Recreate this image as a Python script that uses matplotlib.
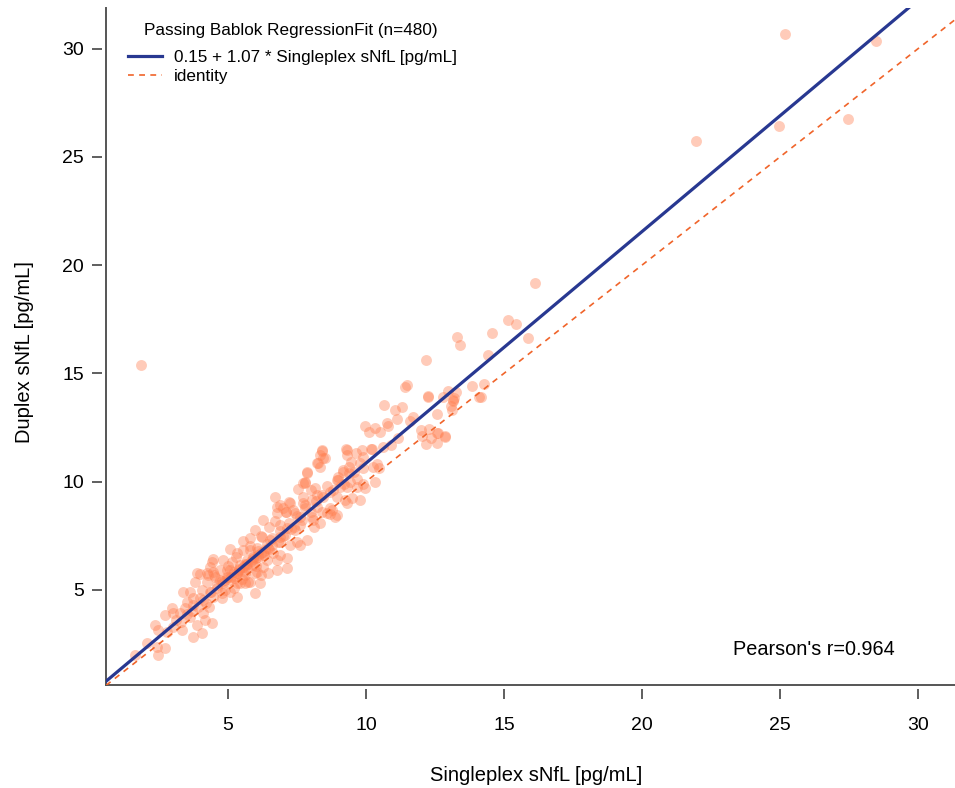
import matplotlib
matplotlib.use("Agg")
import matplotlib.pyplot as plt
import numpy as np

plt.rcParams["font.family"] = ["Liberation Sans", "DejaVu Sans"]

POINT = "#FF7F50"
FIT = "#283891"
IDENT = "#F0642A"
AXIS = "#555555"

# readings (Singleplex, Duplex), pg/mL
single = [
    25.19, 28.47, 21.97, 24.95, 27.45, 16.11, 15.16, 15.43, 15.87, 14.57,
    14.42, 14.28, 14.17, 1.85,
    13.28, 13.42, 12.19, 11.49, 11.40, 13.83, 12.23, 12.98, 13.25, 13.18,
    12.80, 13.15, 13.09, 13.13, 14.09, 10.64, 11.32, 11.04, 11.12, 12.58,
    11.69, 11.59, 10.77, 10.81, 9.96, 10.33, 10.11, 10.51, 11.98, 12.27,
    12.02, 12.37, 12.62, 12.87, 12.17, 12.58, 9.28, 10.23, 10.61, 11.16,
    13.16, 12.86, 12.56, 12.26,
    8.41, 8.33, 8.51, 8.21, 8.33, 7.86, 9.32, 9.62, 9.86, 10.17,
    9.90, 9.46, 9.78, 9.37, 9.18, 9.57, 9.90, 10.27, 10.48, 9.69,
    9.42, 9.32, 9.66, 9.96, 10.33, 8.97, 9.06, 8.70, 8.96, 9.24,
    9.48, 9.78, 7.79, 7.52, 7.99, 8.15, 8.21, 8.45, 8.03, 7.73,
    6.70, 7.22, 7.00, 6.76, 7.37, 7.79, 8.21, 8.70, 8.94, 8.57,
    6.28, 7.61, 8.03, 8.39, 8.45, 8.27, 9.30, 7.85, 7.80, 9.18,
    8.94, 8.88, 8.76, 8.39, 8.09, 8.33,
    7.73, 7.25, 6.88, 6.76, 7.10, 7.43, 7.67, 6.50, 6.88, 7.13,
    7.43, 5.98, 6.22, 5.80, 5.53, 6.52, 6.88, 7.25, 7.61, 7.85,
    5.07, 5.31, 5.55, 5.80, 6.04, 6.28, 6.64, 4.47, 4.83, 5.13,
    5.43, 5.68, 6.10, 6.40, 6.76, 7.13, 5.92, 6.28, 4.35, 4.71,
    5.07, 3.99, 4.29, 4.53, 4.95, 5.31, 5.62, 6.04, 6.46, 6.76,
    7.13, 3.80, 4.23, 4.83, 5.31, 5.80, 6.16,
    4.41, 3.86, 4.23, 4.47, 4.95, 5.31, 5.62, 5.98, 4.71, 5.07,
    5.43, 5.74, 5.98, 3.38, 3.62, 4.05, 4.35, 3.74, 4.11, 4.47,
    4.77, 5.07, 5.31, 3.50, 3.74, 3.44, 2.96, 2.72, 3.02, 3.26,
    3.62, 4.11, 4.41, 4.17, 3.86, 2.36, 2.47, 2.78, 3.02, 4.05,
    3.32, 2.05, 2.42, 2.72, 2.47, 1.63, 3.74,
    5.20, 5.55, 5.85, 6.10, 6.35, 4.90, 5.40, 5.70, 6.00, 6.60,
    4.60, 5.00, 5.25, 5.65, 6.20, 6.90, 7.40, 7.05, 6.45, 5.90,
    3.10, 3.30, 3.50, 3.70, 3.90, 4.00, 4.20, 4.40, 4.60, 4.80,
    4.90, 5.10, 5.20, 5.40, 5.50, 5.60, 5.70, 5.90, 6.00, 6.10,
    6.30, 6.40, 6.50, 6.60, 6.80, 6.90, 7.00, 7.20, 7.30, 7.50,
    7.60, 7.80, 8.00, 8.20, 8.40, 8.60, 8.80, 9.00, 9.20, 9.40,
    4.50, 5.00, 5.30, 5.80, 6.20, 6.70, 7.10, 7.70, 4.30, 4.80,
    5.60, 6.20, 6.90, 7.50, 8.10, 8.70, 9.30, 9.90, 10.40, 10.90,
]
duplex = [
    30.68, 30.35, 25.73, 26.42, 26.77, 19.18, 17.47, 17.28, 16.64, 16.87,
    15.85, 14.51, 13.91, 15.39,
    16.67, 16.30, 15.62, 14.46, 14.37, 14.40, 13.91, 14.20, 14.13, 13.88,
    13.92, 13.70, 13.49, 13.29, 13.89, 13.54, 13.46, 13.31, 12.91, 13.12,
    12.96, 12.81, 12.72, 12.58, 12.57, 12.49, 12.28, 12.28, 12.38, 12.41,
    12.11, 12.03, 12.23, 12.11, 11.72, 11.80, 11.49, 11.52, 11.61, 12.03,
    13.77, 12.08, 12.23, 13.93,
    11.43, 11.23, 11.08, 10.84, 10.69, 10.43, 11.23, 11.31, 11.46, 11.49,
    11.15, 10.92, 10.84, 10.69, 10.46, 10.46, 10.62, 10.69, 10.62, 10.11,
    10.00, 9.77, 9.77, 9.69, 10.00, 10.07, 9.77, 9.54, 9.30, 9.15,
    9.22, 9.15, 10.00, 9.65, 9.61, 9.69, 9.38, 9.30, 9.15, 9.00,
    9.30, 9.07, 8.77, 8.84, 8.69, 8.77, 8.84, 8.77, 8.46, 8.53,
    8.23, 8.38, 8.38, 11.46, 11.08, 10.84, 11.46, 10.38, 9.92, 10.54,
    10.07, 8.38, 8.69, 8.61, 8.23, 8.07,
    9.92, 9.00, 8.92, 8.53, 8.61, 8.53, 8.23, 7.92, 8.00, 7.84,
    7.76, 7.76, 7.45, 7.38, 7.25, 7.30, 7.22, 7.07, 7.07, 7.30,
    6.89, 6.69, 6.84, 6.84, 6.92, 6.76, 6.69, 6.41, 6.38, 6.30,
    6.15, 6.38, 6.53, 6.38, 6.38, 6.46, 6.15, 6.07, 6.07, 5.92,
    5.92, 5.73, 5.68, 5.61, 5.61, 5.76, 5.84, 5.84, 5.76, 5.92,
    5.99, 5.37, 5.37, 5.30, 5.30, 5.37, 5.30,
    6.30, 5.76, 5.76, 5.84, 5.92, 5.76, 5.68, 5.76, 5.45, 5.45,
    5.30, 5.37, 4.83, 4.88, 4.88, 4.99, 4.91, 4.61, 4.53, 4.68,
    4.83, 4.91, 4.68, 4.45, 4.30, 4.14, 4.14, 3.84, 3.91, 3.91,
    3.76, 3.91, 3.45, 3.60, 3.37, 3.37, 3.14, 3.06, 3.29, 2.99,
    3.14, 2.52, 2.37, 2.29, 1.99, 1.99, 2.83,
    5.80, 6.05, 6.35, 6.60, 6.85, 5.45, 5.95, 6.20, 6.45, 7.05,
    5.20, 5.60, 5.55, 6.15, 6.70, 7.45, 7.90, 7.55, 6.95, 6.40,
    3.60, 3.50, 3.90, 4.00, 4.20, 4.60, 4.40, 4.90, 5.10, 5.40,
    5.00, 5.60, 5.10, 5.90, 5.50, 6.20, 6.00, 6.50, 6.10, 6.80,
    6.60, 7.10, 6.90, 7.40, 7.20, 7.70, 7.50, 8.10, 7.80, 8.40,
    8.00, 8.90, 8.60, 9.10, 9.40, 9.80, 9.60, 10.20, 9.90, 10.40,
    5.70, 6.10, 6.50, 7.00, 7.50, 8.20, 8.60, 9.30, 4.20, 4.60,
    5.30, 5.70, 6.60, 7.20, 7.90, 8.50, 9.00, 9.90, 10.80, 11.70,
]

intercept, slope = 0.15, 1.07
pearson_r = 0.964
n_obs = 480

fig = plt.figure(figsize=(9.55, 7.88), dpi=100)
ax = fig.add_axes([106 / 955, 103 / 788, 849 / 955, 677 / 788])

ax.scatter(single, duplex, s=62, color=POINT, alpha=0.4, linewidths=0, zorder=2)

xlim = (0.58, 31.34)
ylim = (0.60, 31.88)
xx = np.array(xlim)
ax.plot(xx, intercept + slope * xx, color=FIT, lw=2.3, zorder=3,
        label=f"{intercept:.2f} + {slope:.2f} * Singleplex sNfL [pg/mL]")
ax.plot(xx, xx, color=IDENT, lw=1.2, dashes=(3.5, 3.2), zorder=3,
        label="identity")
ax.set_xlim(*xlim)
ax.set_ylim(*ylim)

# R-style axes: L frame with detached ticks
for side in ["top", "right"]:
    ax.spines[side].set_visible(False)
for side in ["left", "bottom"]:
    ax.spines[side].set_position(("outward", 3))
    ax.spines[side].set_color("none")
ax.plot([0, 0], [0, 1], transform=ax.transAxes, color=AXIS, lw=1.4, clip_on=False)
ax.plot([0, 1], [0, 0], transform=ax.transAxes, color=AXIS, lw=1.4, clip_on=False)

ax.set_xticks([5, 10, 15, 20, 25, 30])
ax.set_yticks([5, 10, 15, 20, 25, 30])
ax.tick_params(axis="x", direction="out", length=7, width=1.1, color="#333333",
               pad=13, labelsize=14)
ax.tick_params(axis="y", direction="out", length=7, width=1.1, color="#333333",
               pad=6, labelsize=14)

# legend title drawn apart so the gap under it matches the original
fig.text(291 / 955, 1 - 30 / 788, f"Passing Bablok RegressionFit (n={n_obs})",
         fontsize=12.3, ha="center", va="center")
ax.legend(loc="upper left", bbox_to_anchor=(22 / 849, 1 - 42 / 677), frameon=False,
          fontsize=12.3, handlelength=2.0, handletextpad=0.7, labelspacing=0.25,
          borderaxespad=0, borderpad=0)

ax.text(23.3, 2.22, f"Pearson's r={pearson_r}", fontsize=14.3, ha="left", va="center")

fig.text(536 / 955, 7 / 788, "Singleplex sNfL [pg/mL]", fontsize=14.5,
         ha="center", va="baseline")
fig.text(25 / 955, 1 - 352 / 788, "Duplex sNfL [pg/mL]", fontsize=14.5,
         ha="center", va="center", rotation=90)

fig.savefig("out.png", dpi=100)
